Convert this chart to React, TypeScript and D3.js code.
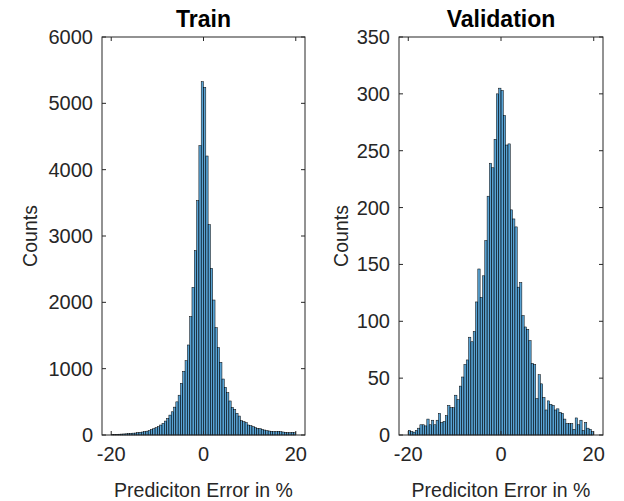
import React from 'react'
import * as d3 from 'd3'

// bin edges: -20 .. 20, width 0.5 (80 bins)
const binStart = -20
const binWidth = 0.5

const trainCounts = [
  5, 8, 10, 12, 14, 16, 18, 22, 25, 28,
  30, 35, 40, 45, 50, 58, 65, 80, 95, 110,
  125, 150, 175, 210, 250, 300, 350, 420, 500, 600,
  779, 960, 1120, 1357, 1784, 2226, 2779, 3533, 4362, 5326,
  5241, 4206, 3171, 2513, 2035, 1618, 1317, 1095, 844, 719,
  638, 513, 417, 387, 327, 286, 216, 201, 186, 151,
  141, 126, 111, 100, 95, 85, 75, 65, 60, 55,
  50, 50, 55, 50, 45, 40, 35, 35, 40, 35,
]

const validationCounts = [
  4, 3, 2.5, 4, 6, 9, 9, 8, 14, 9,
  13, 9, 13, 19, 11, 12, 17, 26, 24, 24,
  35, 31, 43, 51, 62, 66, 86, 82, 91, 117,
  146, 121, 140, 171, 210, 239, 235, 260, 300, 305,
  303, 281, 255, 256, 198, 190, 183, 130, 134, 105,
  95, 93, 83, 63, 62, 32, 53, 45, 33, 22,
  30, 27, 26, 22, 23, 20, 19, 14, 10, 10,
  10, 5, 15, 9, 13, 4, 11, 6, 5, 3,
]

const xTicks = [-20, 0, 20]
const trainYTicks = [0, 1000, 2000, 3000, 4000, 5000, 6000]
const valYTicks = [0, 50, 100, 150, 200, 250, 300, 350]

const font = '"Liberation Sans", Arial, Helvetica, sans-serif'
const axisColor = '#262626'

type PanelProps = {
  left: number
  right: number
  top: number
  bottom: number
  counts: number[]
  yMax: number
  yTicks: number[]
  title: string
  ylabelX: number
}

function Panel({ left, right, top, bottom, counts, yMax, yTicks, title, ylabelX }: PanelProps) {
  const x = d3.scaleLinear().domain([-22, 22]).range([left, right])
  const y = d3.scaleLinear().domain([0, yMax]).range([bottom, top])
  const tl = 4
  const cx = (left + right) / 2

  return (
    <g>
      {counts.map((c, i) => {
        const x0 = binStart + i * binWidth
        return (
          <rect
            key={i}
            x={x(x0)}
            y={y(c)}
            width={x(x0 + binWidth) - x(x0)}
            height={y(0) - y(c)}
            fill="#0072BD"
            fillOpacity={0.65}
            stroke="#000"
            strokeWidth={0.5}
          />
        )
      })}
      <rect x={left} y={top} width={right - left} height={bottom - top} fill="none" stroke={axisColor} strokeWidth={1} />
      {yTicks.map((t) => (
        <g key={t}>
          <line x1={left} x2={left + tl} y1={y(t)} y2={y(t)} stroke={axisColor} />
          <line x1={right} x2={right - tl} y1={y(t)} y2={y(t)} stroke={axisColor} />
          <text x={left - 9} y={y(t)} dy="0.35em" textAnchor="end" fontSize={20} fill={axisColor}>
            {t}
          </text>
        </g>
      ))}
      {xTicks.map((t) => (
        <g key={t}>
          <line x1={x(t)} x2={x(t)} y1={bottom} y2={bottom - tl} stroke={axisColor} />
          <line x1={x(t)} x2={x(t)} y1={top} y2={top + tl} stroke={axisColor} />
          <text x={x(t)} y={bottom + 26} textAnchor="middle" fontSize={20} fill={axisColor}>
            {t}
          </text>
        </g>
      ))}
      <text x={cx} y={top - 10} textAnchor="middle" fontSize={23} fontWeight="bold" fill="#000">
        {title}
      </text>
      <text x={cx} y={bottom + 62} textAnchor="middle" fontSize={19.5} fill={axisColor}>
        Prediciton Error in %
      </text>
      <text
        transform={`translate(${ylabelX},${(top + bottom) / 2}) rotate(-90)`}
        textAnchor="middle"
        fontSize={19.5}
        fill={axisColor}
      >
        Counts
      </text>
    </g>
  )
}

export default function App() {
  return (
    <svg
      width={624}
      height={501}
      style={{ position: 'absolute', left: 0, top: 0, background: '#fff', fontFamily: font }}
    >
      <rect width={624} height={501} fill="#fff" />
      <Panel
        left={102}
        right={305}
        top={37}
        bottom={435}
        counts={trainCounts}
        yMax={6000}
        yTicks={trainYTicks}
        title="Train"
        ylabelX={37}
      />
      <Panel
        left={399}
        right={603}
        top={37}
        bottom={435}
        counts={validationCounts}
        yMax={350}
        yTicks={valYTicks}
        title="Validation"
        ylabelX={348}
      />
    </svg>
  )
}
